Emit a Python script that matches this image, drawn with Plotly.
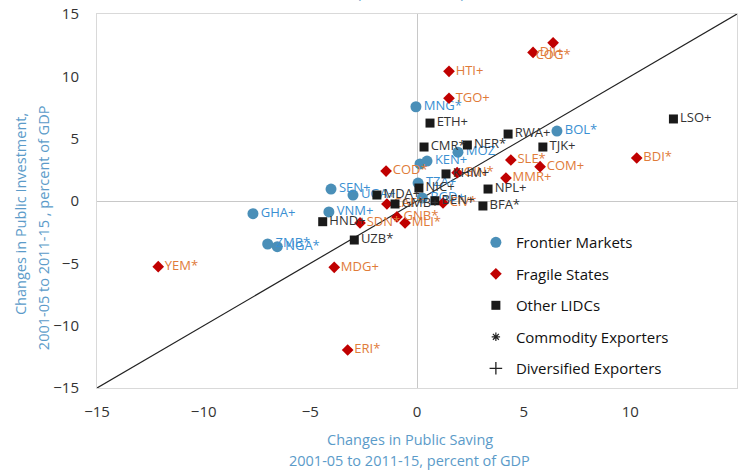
import plotly.graph_objects as go

# ---------------- data ----------------
fm_labels = ["MNG*", "BOL*", "MOZ", "", "KEN+", "TZA+", "BGD+", "SEN+", "UGA+", "VNM+", "GHA+", "ZMB*", "NGA*"]
fm_x = [-0.05, 6.56, 1.92, 0.14, 0.47, 0.05, 0.25, -4.03, -3.0, -4.13, -7.69, -7.0, -6.55]
fm_y = [7.56, 5.61, 3.92, 2.97, 3.2, 1.44, 0.25, 0.96, 0.48, -0.88, -1.02, -3.45, -3.66]

fs_labels = ["HTI+", "TGO+", "DJI+", "COG*", "COD*", "GIN*", "SLE*", "COM+", "MMR+", "BDI*",
             "CIV*", "CAF*", "GNB*", "MLI*", "SDN*", "YEM*", "MDG+", "ERI*"]
fs_x = [1.5, 1.5, 5.44, 6.38, -1.45, 1.88, 4.4, 5.77, 4.17, 10.3,
        1.22, -1.41, -0.94, -0.56, -2.67, -12.13, -3.88, -3.25]
fs_y = [10.4, 8.24, 11.92, 12.69, 2.4, 2.27, 3.29, 2.75, 1.84, 3.45,
        -0.16, -0.24, -1.28, -1.76, -1.76, -5.27, -5.32, -11.95]

ol_labels = ["ETH+", "CMR*", "NER*", "RWA+", "TJK+", "LSO+", "KHM+", "NIC+", "NPL+", "BFA*",
             "BEN+", "GMB+", "MDA+", "HND+", "UZB*"]
ol_x = [0.61, 0.33, 2.36, 4.27, 5.9, 12.02, 1.36, 0.09, 3.33, 3.09,
        0.84, -1.03, -1.88, -4.42, -2.94]
ol_y = [6.25, 4.33, 4.49, 5.37, 4.33, 6.58, 2.17, 1.04, 0.96, -0.4,
        0.02, -0.24, 0.48, -1.66, -3.13]

diag_x = [-15, 15]
diag_y = [-15, 15]

x_ticks = [-15, -10, -5, 0, 5, 10, 15]
y_ticks = [-15, -10, -5, 0, 5, 10, 15]

FONT = "Open Sans"
BLUE_M = "#4a8fb8"
BLUE_T = "#3a8fd2"
RED_M = "#c00000"
ORANGE_T = "#e07b39"
BLACK_M = "#1a1a1a"
BLACK_T = "#333333"
TITLE_C = "#5b9bc9"

def positions(labels):
    return ["bottom center" if l == "COG*" else "middle right" for l in labels]

fig = go.Figure()

fig.add_trace(go.Scatter(x=diag_x, y=diag_y, mode="lines",
                         line=dict(color="#222222", width=1.2),
                         showlegend=False, hoverinfo="skip"))

fig.add_trace(go.Scatter(x=fm_x, y=fm_y, mode="markers+text", text=fm_labels,
                         textposition=positions(fm_labels),
                         textfont=dict(family=FONT, size=13, color=BLUE_T),
                         marker=dict(symbol="circle", size=11, color=BLUE_M),
                         name="Frontier Markets", legendgroup="a"))
fig.add_trace(go.Scatter(x=fs_x, y=fs_y, mode="markers+text", text=fs_labels,
                         textposition=positions(fs_labels),
                         textfont=dict(family=FONT, size=13, color=ORANGE_T),
                         marker=dict(symbol="diamond", size=9, color=RED_M),
                         name="Fragile States", legendgroup="b"))
fig.add_trace(go.Scatter(x=ol_x, y=ol_y, mode="markers+text", text=ol_labels,
                         textposition=positions(ol_labels),
                         textfont=dict(family=FONT, size=13, color=BLACK_T),
                         marker=dict(symbol="square", size=9, color=BLACK_M),
                         name="Other LIDCs", legendgroup="c"))
fig.add_trace(go.Scatter(x=[None], y=[None], mode="markers",
                         marker=dict(symbol="asterisk-open", size=7, color="#222",
                                     line=dict(width=1.2, color="#222")),
                         name="Commodity Exporters", legendgroup="d"))
fig.add_trace(go.Scatter(x=[None], y=[None], mode="markers",
                         marker=dict(symbol="cross-thin-open", size=9, color="#222",
                                     line=dict(width=1.3, color="#222")),
                         name="Diversified Exporters", legendgroup="e"))

axis_common = dict(range=[-15, 15], showgrid=False, zeroline=True,
                   zerolinecolor="#c8c8c8", zerolinewidth=1,
                   showline=True, linecolor="#d9d9d9", linewidth=1, mirror=True,
                   tickfont=dict(family=FONT, size=15, color="#333333"),
                   ticks="", automargin=False)

def ann(text, x, y, angle=0):
    return dict(text=text, xref="paper", yref="paper", x=x, y=y,
                xanchor="center", yanchor="middle", textangle=angle, showarrow=False,
                font=dict(family=FONT, size=14.5, color=TITLE_C))

fig.update_layout(
    width=741, height=470,
    margin=dict(l=97, r=4, t=14, b=82, autoexpand=False),
    paper_bgcolor="white", plot_bgcolor="white",
    font=dict(family=FONT),
    xaxis=dict(**axis_common, tickvals=x_ticks, ticklabelstandoff=10),
    yaxis=dict(**axis_common, tickvals=y_ticks, ticklabelstandoff=14),
    showlegend=True,
    legend=dict(x=0.592, y=0.433, xanchor="left", yanchor="top",
                font=dict(family=FONT, size=15, color="#111111"),
                bgcolor="rgba(255,255,255,0)", tracegroupgap=9,
                itemwidth=30),
    annotations=[
        ann("Changes in Public Saving", 0.489, -0.139),
        ann("2001-05 to 2011-15, percent of GDP", 0.489, -0.195),
        ann("Changes in Public Investment,", -0.1203, 0.465, -90),
        ann("2001-05 to 2011-15 , percent of GDP", -0.0844, 0.43, -90),
        dict(text="(Percent of GDP)", xref="paper", yref="paper", x=0.49, y=1.058,
             xanchor="center", yanchor="middle", showarrow=False,
             font=dict(family=FONT, size=14, color=TITLE_C)),
    ],
)

fig.write_html("out.html", config={"displayModeBar": False},
               post_script="document.body.style.margin='0';document.body.style.padding='0';")
